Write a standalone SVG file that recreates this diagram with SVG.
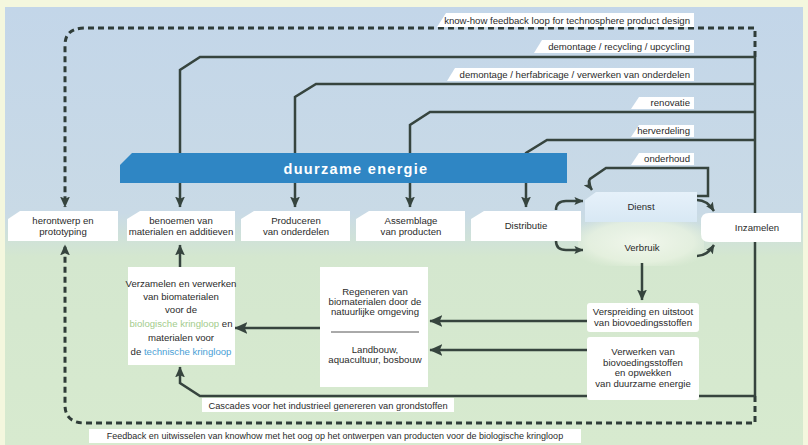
<svg xmlns="http://www.w3.org/2000/svg" width="808" height="445" viewBox="0 0 808 445">
<defs>
<linearGradient id="bg" x1="0" y1="0" x2="0" y2="1">
<stop offset="0" stop-color="#c3d6e9"/>
<stop offset="0.47" stop-color="#c9dae6"/>
<stop offset="0.57" stop-color="#d4e7cf"/>
<stop offset="1" stop-color="#d7eacf"/>
</linearGradient>
<linearGradient id="dienstg" x1="0" y1="0" x2="0" y2="1">
<stop offset="0" stop-color="#e6f1fa"/>
<stop offset="1" stop-color="#d8e8f4"/>
</linearGradient>
<radialGradient id="verb" cx="0.5" cy="0.5" r="0.6">
<stop offset="0" stop-color="#f1f7ec" stop-opacity="1"/>
<stop offset="0.7" stop-color="#e8f2e1" stop-opacity="0.8"/>
<stop offset="1" stop-color="#e2eedb" stop-opacity="0"/>
</radialGradient>
<marker id="ah" viewBox="0 0 10 10" refX="9.5" refY="5" markerWidth="11" markerHeight="11" markerUnits="userSpaceOnUse" orient="auto">
<path d="M0,0.5 L10,5 L0,9.5 L2,5 z" fill="#36443e"/>
</marker>
<marker id="ahs" viewBox="0 0 10 10" refX="9.5" refY="5" markerWidth="9" markerHeight="9" markerUnits="userSpaceOnUse" orient="auto">
<path d="M0,0.5 L10,5 L0,9.5 L2,5 z" fill="#36443e"/>
</marker>
<marker id="ahb" viewBox="0 0 10 10" refX="9.5" refY="5" markerWidth="13" markerHeight="13" markerUnits="userSpaceOnUse" orient="auto">
<path d="M0,0.5 L10,5 L0,9.5 L2,5 z" fill="#36443e"/>
</marker>
<style>
.ln{fill:none;stroke:#36443e;stroke-width:2.5}
.dl{fill:none;stroke:#2f3c38;stroke-width:3;stroke-dasharray:6 4}
.t{font-family:"Liberation Sans",Arial,sans-serif;font-size:9.6px;fill:#2b2b2b;text-anchor:middle}
.lt{font-family:"Liberation Sans",Arial,sans-serif;font-size:9.6px;fill:#2b2b2b;text-anchor:end}
.box{fill:#ffffff}
.lab{fill:#ffffff}
</style>
</defs>
<rect x="0" y="0" width="808" height="445" fill="#f4f7de"/>
<rect x="5" y="7" width="798" height="438" fill="url(#bg)"/>
<rect x="578" y="218" width="126" height="48" fill="url(#verb)"/>

<g id="connectors">
<path class="dl" d="M755,57 V28 H85 Q65,28 65,45 V207" marker-end="url(#ah)"/>
<path class="dl" d="M755,396 V423 H85 Q65,423 65,405 V245" marker-end="url(#ah)"/>
<path class="ln" d="M755,57 V396"/>
<path class="ln" d="M755,57 H200 L180,70 V207" marker-end="url(#ah)"/>
<path class="ln" d="M755,84 H316 L295,97 V207" marker-end="url(#ah)"/>
<path class="ln" d="M755,112 H430 L410,125 V207" marker-end="url(#ah)"/>
<path class="ln" d="M755,140 H547 L526,153 V207" marker-end="url(#ah)"/>
<path class="ln" d="M697,196 H708 V168 H606 L590,179 Q587,183 592,190" marker-end="url(#ahs)"/>
<path class="ln" d="M556,210 Q556,201 566,201 H583" marker-end="url(#ahs)"/>
<path class="ln" d="M556,241 Q556,250 566,250 H583" marker-end="url(#ahs)"/>
<path class="ln" d="M697,200 Q707,200 714,211" marker-end="url(#ahs)"/>
<path class="ln" d="M697,256 Q707,256 714,245" marker-end="url(#ahs)"/>
<path class="ln" d="M642,263 V300" marker-end="url(#ah)"/>
<path class="ln" d="M755,396 H200 L180,383 V367" marker-end="url(#ah)"/>
<path class="ln" d="M180,267 V245" marker-end="url(#ah)"/>
<path class="ln" d="M587,321 H430" marker-end="url(#ahb)"/>
<path class="ln" d="M587,350 H430" marker-end="url(#ahb)"/>
<path class="ln" d="M320,328 H235" marker-end="url(#ahb)"/>
<g id="connector-labels">
<polygon class="lab" points="437,27 446,13 694,13 694,27"/>
<text class="lt" x="690" y="23.5">know-how feedback loop for technosphere product design</text>
<polygon class="lab" points="534,53 542,40 694,40 694,53"/>
<text class="lt" x="690" y="50">demontage / recycling / upcycling</text>
<polygon class="lab" points="447,81 455,68 694,68 694,81"/>
<text class="lt" x="690" y="78">demontage / herfabricage / verwerken van onderdelen</text>
<polygon class="lab" points="631,109 639,97 694,97 694,109"/>
<text class="lt" x="690" y="106">renovatie</text>
<polygon class="lab" points="631,137 639,125 694,125 694,137"/>
<text class="lt" x="690" y="134">herverdeling</text>
<polygon class="lab" points="631,165 639,153 694,153 694,165"/>
<text class="lt" x="690" y="162">onderhoud</text>
<rect class="lab" x="202" y="398" width="252" height="14"/>
<text class="t" x="328" y="408.5" style="font-size:9.3px">Cascades voor het industrieel genereren van grondstoffen</text>
<rect class="lab" x="89" y="429" width="492" height="14"/>
<text class="t" x="335" y="439" style="font-size:9px">Feedback en uitwisselen van knowhow met het oog op het ontwerpen van producten voor de biologische kringloop</text>
</g>
</g>

<g id="duurzame-energie">
<polygon points="120,165 132,153 567,153 567,183 120,183" fill="#2f86c4"/>
<text x="356" y="174" font-family="Liberation Sans, Arial, sans-serif" font-size="14.5" font-weight="bold" fill="#ffffff" text-anchor="middle" letter-spacing="1.3">duurzame energie</text>
</g>

<g id="herontwerp">
<polygon class="box" points="8,219 20,211 118,211 118,241 8,241"/>
<text class="t" x="63" y="224">herontwerp en</text>
<text class="t" x="63" y="235">prototyping</text>
</g>
<g id="benoemen">
<polygon class="box" points="127,219 140,211 235,211 235,241 127,241"/>
<text class="t" x="181" y="224">benoemen van</text>
<text class="t" x="181" y="235">materialen en additieven</text>
</g>
<g id="produceren">
<polygon class="box" points="241,219 254,211 350,211 350,241 241,241"/>
<text class="t" x="296" y="224">Produceren</text>
<text class="t" x="296" y="235">van onderdelen</text>
</g>
<g id="assemblage">
<polygon class="box" points="356,219 369,211 465,211 465,241 356,241"/>
<text class="t" x="411" y="224">Assemblage</text>
<text class="t" x="411" y="235">van producten</text>
</g>
<g id="distributie">
<polygon class="box" points="471,219 484,211 581,211 581,241 471,241"/>
<text class="t" x="526" y="229">Distributie</text>
</g>
<g id="dienst">
<polygon points="585,200 596,192 697,192 697,222 585,222" fill="url(#dienstg)"/>
<text class="t" x="641" y="210">Dienst</text>
</g>
<g id="verbruik">
<text class="t" x="642" y="251">Verbruik</text>
</g>
<g id="inzamelen">
<path class="box" d="M709,213 H801 V242 H709 Q701,242 701,234 V221 Q701,213 709,213 z"/>
<text class="t" x="757" y="231">Inzamelen</text>
</g>
<g id="verzamelen">
<rect class="box" x="128" y="267" width="107" height="98"/>
<text class="t" x="181" y="287">Verzamelen en verwerken</text>
<text class="t" x="181" y="300">van biomaterialen</text>
<text class="t" x="181" y="313">voor de</text>
<text class="t" x="181" y="327"><tspan fill="#a3cc8c">biologische kringloop</tspan> en</text>
<text class="t" x="181" y="341">materialen voor</text>
<text class="t" x="181" y="355">de <tspan fill="#4a9fd6">technische kringloop</tspan></text>
</g>
<g id="regeneren">
<rect class="box" x="320" y="267" width="108" height="120"/>
<text class="t" x="375" y="295">Regeneren van</text>
<text class="t" x="375" y="305">biomaterialen door de</text>
<text class="t" x="375" y="315">natuurlijke omgeving</text>
<line x1="331" y1="332" x2="419" y2="332" stroke="#555" stroke-width="1"/>
<text class="t" x="375" y="353">Landbouw,</text>
<text class="t" x="375" y="363">aquacultuur, bosbouw</text>
</g>
<g id="verspreiding">
<rect class="box" x="587" y="303" width="112" height="29" rx="3"/>
<text class="t" x="643" y="315">Verspreiding en uitstoot</text>
<text class="t" x="643" y="326">van biovoedingsstoffen</text>
</g>
<g id="verwerken">
<rect class="box" x="587" y="337" width="112" height="63" rx="3"/>
<text class="t" x="643" y="355">Verwerken van</text>
<text class="t" x="643" y="366">biovoedingsstoffen</text>
<text class="t" x="643" y="376">en opwekken</text>
<text class="t" x="643" y="387">van duurzame energie</text>
</g>
</svg>
